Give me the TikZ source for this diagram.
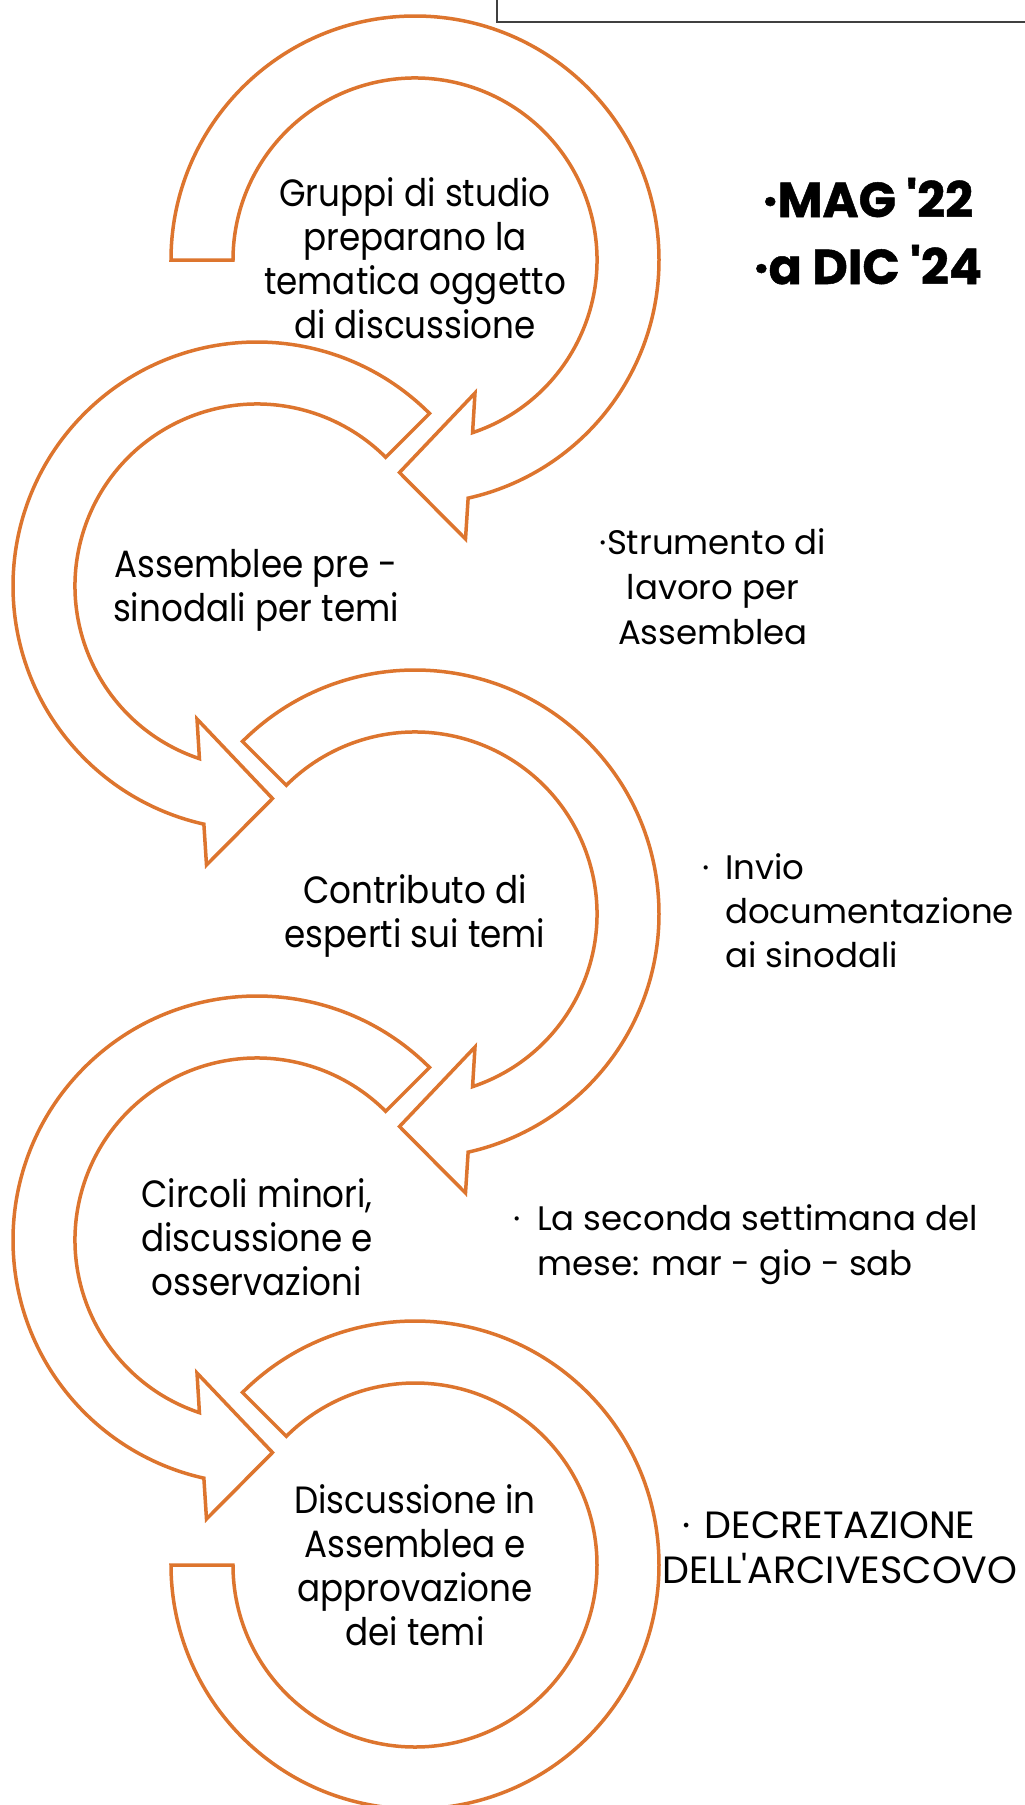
\documentclass[tikz,border=0pt]{standalone}
\usepackage{fontspec}
\setmainfont{Poppins}
\newfontfamily\twcen[FakeStretch=0.9,Ligatures=TeXOff]{Poppins}
\newfontfamily\twcenwide[FakeStretch=1.0,Ligatures=TeXOff]{Poppins}
\newfontfamily\gothic[Ligatures=TeXOff]{Poppins}
\newfontfamily\gothicheavy[Ligatures=TeXOff,BoldFeatures={FakeBold=1}]{Poppins}
\definecolor{arrowline}{RGB}{221,117,46}
\definecolor{boxline}{RGB}{64,64,64}
\tikzset{
  arr/.style={draw=arrowline, line width=3.5pt, fill=white, line join=miter, miter limit=10},
  steptext/.style={font=\twcen\fontsize{38}{44}\selectfont, inner sep=0pt, anchor=base},
  sidetext/.style={font=\gothic\fontsize{34}{45}\selectfont, inner sep=0pt, anchor=base},
  sidecond/.style={font=\twcenwide\fontsize{38}{45}\selectfont, inner sep=0pt, anchor=base},
  datetext/.style={font=\gothicheavy\bfseries\fontsize{49}{67}\selectfont, inner sep=0pt, anchor=base},
}
% arrowhead of a right-turning circular arrow (relative to its centre)
\newcommand\arrowhead{%
  -- (50.5,279) -- (-15.5,212.5) -- (60,133) -- (71.56:182)}
\begin{document}
\begin{tikzpicture}[x=1pt, y=-1pt]
\useasboundingbox (0,0) rectangle (1025,1805);
% top box (cropped)
\draw[boxline, line width=1.5pt] (497,-20) rectangle (1045,22);

% arrow 1
\begin{scope}[shift={(415,260)}]
  \draw[arr] (180:244) arc[start angle=180, end angle=437.42, radius=244]
    \arrowhead arc[start angle=431.56, end angle=180, radius=182] -- cycle;
\end{scope}
% arrow 2 (mirrored)
\begin{scope}[shift={(257,586)}, xscale=-1]
  \draw[arr] (225:244) arc[start angle=225, end angle=437.42, radius=244]
    \arrowhead arc[start angle=431.56, end angle=225, radius=182] -- cycle;
\end{scope}
% arrow 3
\begin{scope}[shift={(415,914)}]
  \draw[arr] (225:244) arc[start angle=225, end angle=437.42, radius=244]
    \arrowhead arc[start angle=431.56, end angle=225, radius=182] -- cycle;
\end{scope}
% arrow 4 (mirrored)
\begin{scope}[shift={(257,1240)}, xscale=-1]
  \draw[arr] (225:244) arc[start angle=225, end angle=437.42, radius=244]
    \arrowhead arc[start angle=431.56, end angle=225, radius=182] -- cycle;
\end{scope}
% arrow 5 (no head)
\begin{scope}[shift={(415,1565)}]
  \draw[arr] (225:244) arc[start angle=225, end angle=540, radius=244]
    -- (540:182) arc[start angle=540, end angle=225, radius=182] -- cycle;
\end{scope}

% step texts
\node[steptext] (t1) at (415,206) {\begin{tabular}[t]{@{}c@{}}Gruppi di studio\\preparano la\\tematica oggetto\\di discussione\end{tabular}};
\node[steptext] (t2) at (256,577.5) {\begin{tabular}[t]{@{}c@{}}Assemblee pre -\\sinodali per temi\end{tabular}};
\node[steptext] (t3) at (415,903) {\begin{tabular}[t]{@{}c@{}}Contributo di\\esperti sui temi\end{tabular}};
\node[steptext] (t4) at (257,1207) {\begin{tabular}[t]{@{}c@{}}Circoli minori,\\discussione e\\osservazioni\end{tabular}};
\node[steptext] (t5) at (415,1513) {\begin{tabular}[t]{@{}c@{}}Discussione in\\Assemblea e\\approvazione\\dei temi\end{tabular}};

% side texts
\node[datetext] (d1) at (868,217) {\begin{tabular}[t]{@{}c@{}}·MAG '22\\·a DIC '24\end{tabular}};
\node[sidetext] (s1) at (713,554) {\begin{tabular}[t]{@{}c@{}}·Strumento di\\lavoro per\\Assemblea\end{tabular}};
\node[sidetext, anchor=base west, font=\gothic\fontsize{34}{44}\selectfont] (s2) at (725,879) {\begin{tabular}[t]{@{}l@{}}\llap{·\hspace{16pt}}Invio\\documentazione\\ai sinodali\end{tabular}};
\node[sidetext, anchor=base west] (s3) at (537,1230) {\begin{tabular}[t]{@{}l@{}}\llap{·\hspace{16pt}}La seconda settimana del\\mese: mar - gio - sab\end{tabular}};
\node[sidecond] (s4) at (840,1538) {\begin{tabular}[t]{@{}c@{}}\llap{·\hspace{14pt}}DECRETAZIONE\\DELL'ARCIVESCOVO\end{tabular}};
\end{tikzpicture}
\end{document}
